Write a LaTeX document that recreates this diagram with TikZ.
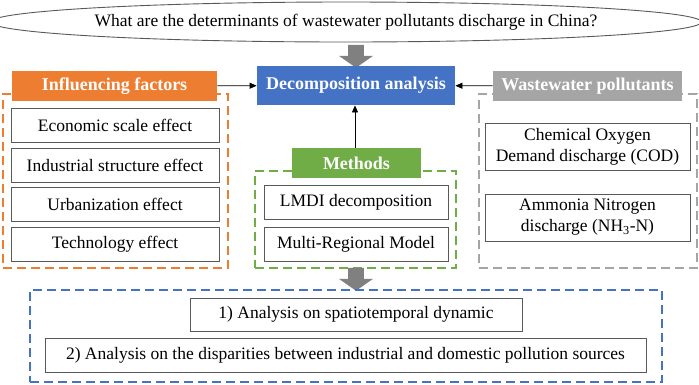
\documentclass[tikz,border=0pt]{standalone}
\usepackage{fontspec}
\setmainfont{Liberation Serif}
\usetikzlibrary{shapes.geometric}
\usetikzlibrary{shapes.arrows}
\usetikzlibrary{arrows.meta}
\usetikzlibrary{positioning}
\definecolor{factorsorange}{HTML}{ED7D31}
\definecolor{decompblue}{HTML}{4472C4}
\definecolor{methodsgreen}{HTML}{70AD47}
\definecolor{pollgray}{HTML}{A5A5A5}
\definecolor{arrowgray}{HTML}{808080}

\begin{document}
\begin{tikzpicture}[
  x=1pt, y=-1pt,
  every node/.style={font=\fontsize{17.5}{21}\selectfont, inner sep=0pt},
  itembox/.style={draw=black!65, fill=white, line width=0.9pt, align=center},
  headbox/.style={text=white, font=\fontsize{18}{21}\selectfont\bfseries},
  dashframe/.style={draw, line width=1.4pt, dash pattern=on 9pt off 5pt},
  blockarrow/.style={single arrow, fill=arrowgray, rotate=-90, inner sep=7.5pt,
    minimum height=23pt, single arrow head extend=9pt, single arrow tip angle=110},
  every path/.style={line width=0.8pt},
]
\tikzset{>={Triangle[length=7pt, width=6pt]}}
\useasboundingbox (0,0) rectangle (699,384);

% Question
\node[ellipse, draw=black!65, line width=0.9pt, minimum width=632pt, minimum height=40pt] (question) at (346,22)
  {What are the determinants of wastewater pollutants discharge in China?};
\node[blockarrow] (qarrow) at (356,53.5) {};

% Decomposition analysis
\node[headbox, fill=decompblue, minimum width=198pt, minimum height=39pt] (decomp) at (356,85.5)
  {Decomposition analysis};

% Influencing factors
\node[dashframe, draw=factorsorange, minimum width=225pt, minimum height=174pt] (factorsframe) at (115.5,181) {};
\node[headbox, fill=factorsorange, minimum width=205pt, minimum height=30pt] (factorshead) at (114.5,86)
  {Influencing factors};
\node[itembox, minimum width=208pt, minimum height=34pt] (scale)  at (115,125) {Economic scale effect};
\node[itembox, minimum width=208pt, minimum height=34pt] (struct) at (115,165) {Industrial structure effect};
\node[itembox, minimum width=208pt, minimum height=34pt] (urban)  at (115,204) {Urbanization effect};
\node[itembox, minimum width=208pt, minimum height=34pt] (tech)   at (115,244) {Technology effect};

% Methods
\node[dashframe, draw=methodsgreen, minimum width=201pt, minimum height=97pt] (methodsframe) at (355.5,219.5) {};
\node[headbox, fill=methodsgreen, minimum width=129pt, minimum height=30pt] (methodshead) at (356.5,163)
  {Methods};
\node[itembox, minimum width=184pt, minimum height=34pt] (lmdi)  at (356,202.5) {LMDI decomposition};
\node[itembox, minimum width=184pt, minimum height=34pt] (mrm)   at (356,244) {Multi-Regional Model};

% Wastewater pollutants
\node[dashframe, draw=pollgray, minimum width=218pt, minimum height=174pt] (pollframe) at (588,181) {};
\node[headbox, fill=pollgray, minimum width=189pt, minimum height=30pt] (pollhead) at (587.5,86)
  {Wastewater pollutants};
\node[itembox, minimum width=205pt, minimum height=47pt] (cod) at (587.5,146.5)
  {Chemical Oxygen\\Demand discharge (COD)};
\node[itembox, minimum width=205pt, minimum height=47pt] (nh3) at (587.5,217.5)
  {Ammonia Nitrogen\\discharge (NH\textsubscript{3}-N)};

% Results
\node[blockarrow] (rarrow) at (356,276.5) {};
\node[dashframe, draw=decompblue, minimum width=632pt, minimum height=92pt] (resultsframe) at (346,336) {};
\node[itembox, minimum width=332pt, minimum height=33pt] (spatial) at (356,314.5)
  {1) Analysis on spatiotemporal dynamic};
\node[itembox, minimum width=601pt, minimum height=34pt] (sources) at (345.5,355)
  {2) Analysis on the disparities between industrial and domestic pollution sources};

% Arrows
\draw[->] (factorshead) -- (decomp);
\draw[->] (pollhead) -- (decomp);
\draw[->] (methodshead.north -| 355,0) -- (decomp.south -| 355,0);

\end{tikzpicture}
\end{document}
